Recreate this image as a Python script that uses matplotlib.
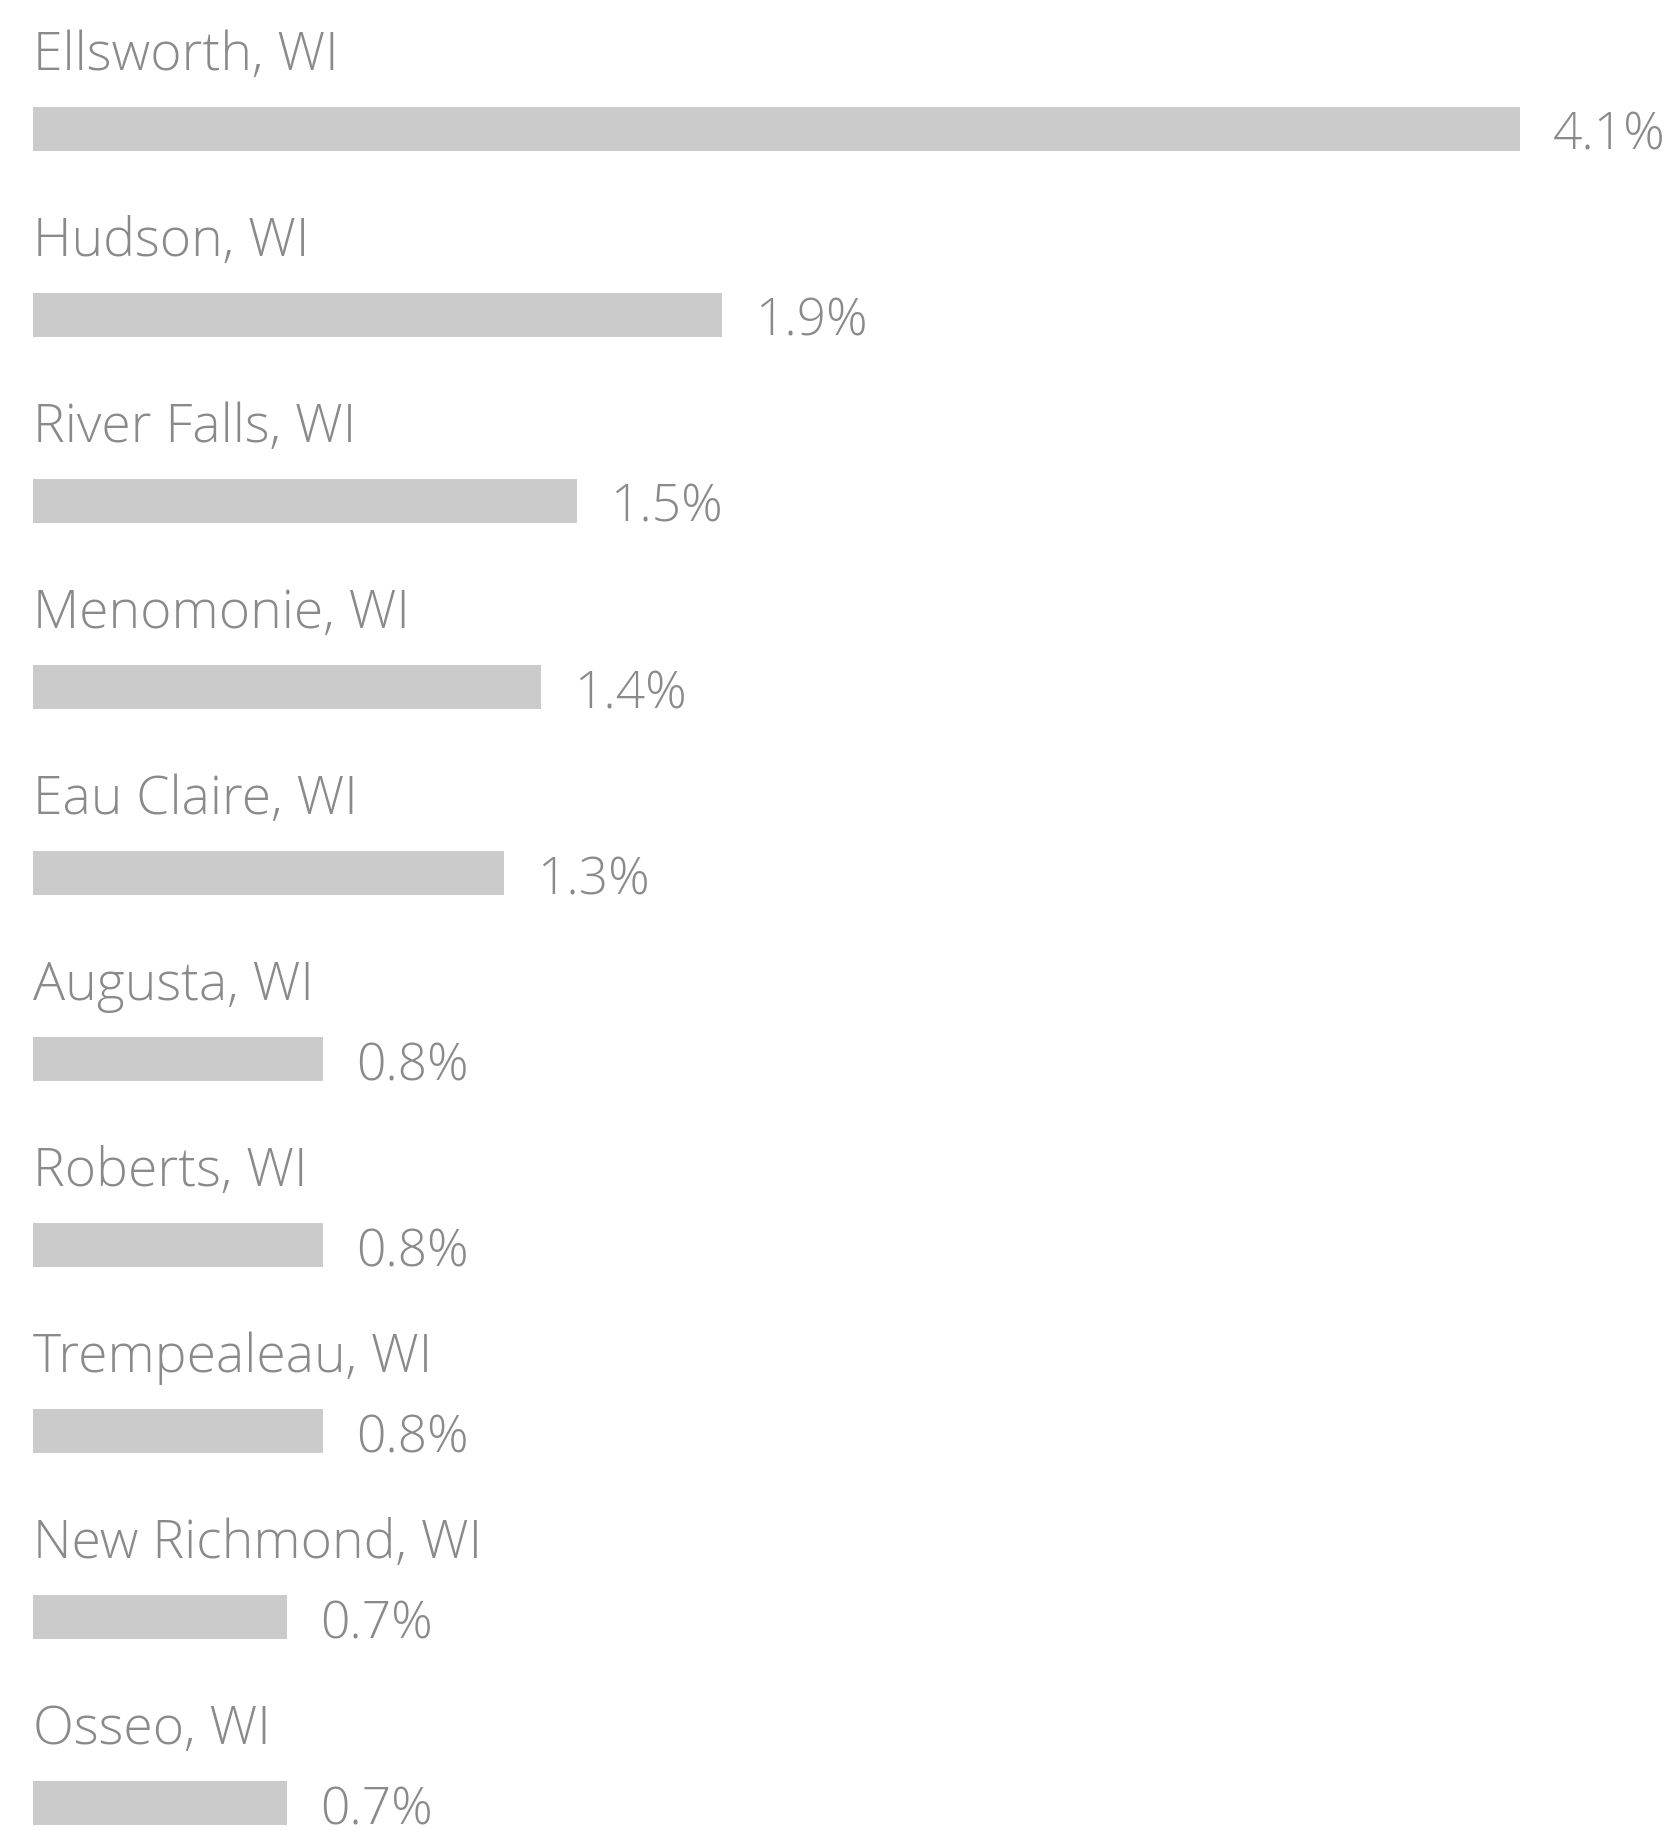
import matplotlib
matplotlib.use("Agg")
import matplotlib.pyplot as plt

cities = ["Ellsworth, WI", "Hudson, WI", "River Falls, WI", "Menomonie, WI",
          "Eau Claire, WI", "Augusta, WI", "Roberts, WI", "Trempealeau, WI",
          "New Richmond, WI", "Osseo, WI"]
values = [4.1, 1.9, 1.5, 1.4, 1.3, 0.8, 0.8, 0.8, 0.7, 0.7]
value_labels = ["4.1%", "1.9%", "1.5%", "1.4%", "1.3%", "0.8%", "0.8%", "0.8%", "0.7%", "0.7%"]

plt.rcParams['font.family'] = ['Open Sans', 'DejaVu Sans']

W, H = 1666, 1844
fig = plt.figure(figsize=(W / 100, H / 100), dpi=100)
ax = fig.add_axes([0, 0, 1, 1])

x0_px = 33
ppu = (1520 - x0_px) / 4.1
row0 = 129
step = 186

ax.set_xlim(-x0_px / ppu, (W - x0_px) / ppu)
ax.set_ylim((H - row0) / step, -row0 / step)
ax.axis('off')

bar_color = "#cbcbcb"
text_color = "#8a8a8a"

ys = list(range(len(cities)))
ax.barh(ys, values, height=44 / step, color=bar_color, align='center')

for y, name, v, lab in zip(ys, cities, values, value_labels):
    ax.text(0, y - 59 / step, name, ha='left', va='baseline', fontsize=38.5,
            color=text_color, fontweight='light')
    ax.text(v + 33 / ppu, y + 21 / step, lab, ha='left', va='baseline', fontsize=37,
            color=text_color, fontweight='light')

fig.savefig("out.png", dpi=100, facecolor='white')
